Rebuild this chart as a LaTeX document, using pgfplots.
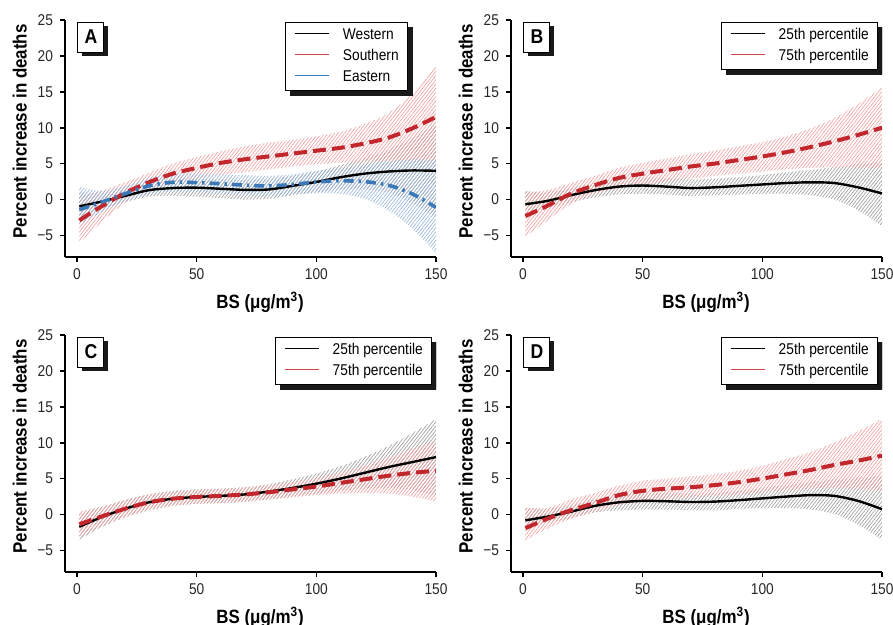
\documentclass[border=0pt]{standalone}
\usepackage{pgfplots}
\pgfplotsset{compat=1.18}
\usepackage{pgfplotstable}
\usepgfplotslibrary{fillbetween}
\usetikzlibrary{patterns.meta,shadows}
\usepackage{fontspec}
\setmainfont{Liberation Sans}[FakeStretch=0.88]

\definecolor{cred}{HTML}{C1272D}
\definecolor{lred}{HTML}{D04848}
\definecolor{cblue}{HTML}{3A78B8}
\definecolor{hgray}{HTML}{9A9A9A}
\definecolor{hred}{HTML}{EEA0A0}
\definecolor{hblue}{HTML}{98B6DA}

% panel A: western (w), southern (s), eastern (e); m = estimate, l/h = CI
\pgfplotstableread{
x    wm    wl    wh    sm    sl    sh    em    el    eh
1   -0.95 -2.8   1.0  -2.9  -6.1   0.4  -1.4  -3.5   1.8
10  -0.3  -1.4   0.9  -1.0  -3.2   1.2  -0.4  -1.8   1.2
20   0.5  -0.4   1.4   0.9  -0.5   2.4   0.8  -0.3   1.9
30   1.3   0.4   2.2   2.4   1.2   3.7   1.9   0.7   3.0
40   1.6   0.5   2.8   3.6   2.2   5.0   2.4   1.1   3.6
50   1.65  0.4   2.9   4.4   2.9   5.9   2.35  1.0   3.6
60   1.5   0.2   2.8   5.1   3.4   6.7   2.2   0.8   3.5
70   1.35  0.0   2.7   5.6   3.8   7.4   2.0   0.6   3.4
80   1.4   0.1   2.8   6.0   4.2   7.9   1.9   0.5   3.3
90   1.9   0.6   3.3   6.4   4.6   8.3   2.1   0.7   3.5
100  2.45  1.0   3.9   6.8   4.9   8.8   2.45  0.9   4.0
110  3.1   1.4   4.8   7.2   5.1   9.4   2.6   0.8   4.3
120  3.6   1.4   5.8   7.8   5.3  10.5   2.5   0.1   4.8
130  3.9   1.0   6.9   8.6   5.4  12.0   2.0  -1.5   5.3
140  4.05 -0.5   8.5   9.9   5.3  14.7   0.8  -4.0   5.6
150  4.0  -2.5  10.5  11.5   4.8  18.5  -1.1  -7.5   5.5
}\tabA

% panels B-D: 25th percentile (b), 75th percentile (r)
\pgfplotstableread{
x    bm    bl    bh    rm    rl    rh
1   -0.65 -2.0   1.2  -2.3  -5.2   1.0
10  -0.2  -1.3   1.0  -0.9  -3.0   1.3
20   0.6  -0.4   1.6   0.8  -0.6   2.3
30   1.3   0.3   2.3   2.0   0.7   3.3
40   1.8   0.7   2.9   3.0   1.5   4.4
50   1.95  0.8   3.1   3.6   2.0   5.1
60   1.8   0.7   3.0   4.1   2.5   5.7
70   1.6   0.5   2.8   4.6   2.9   6.3
80   1.7   0.6   2.9   5.0   3.3   6.8
90   1.9   0.7   3.1   5.5   3.6   7.4
100  2.1   0.8   3.4   6.0   3.9   8.0
110  2.3   0.8   3.8   6.6   4.2   8.8
120  2.4   0.6   4.1   7.3   4.4   9.9
130  2.3   0.0   4.5   8.1   4.5  11.3
140  1.7  -1.5   4.9   9.0   4.5  13.3
150  0.85 -3.7   5.3  10.0   4.3  15.6
}\tabB

\pgfplotstableread{
x    bm    bl    bh    rm    rl    rh
1   -1.7  -3.5   0.1  -1.35 -3.0   0.4
10  -0.4  -1.8   1.0  -0.3  -1.7   1.1
20   0.8  -0.4   2.0   0.8  -0.4   2.0
30   1.7   0.6   2.8   1.7   0.6   2.8
40   2.2   1.2   3.3   2.2   1.2   3.2
50   2.45  1.5   3.5   2.45  1.5   3.4
60   2.6   1.6   3.6   2.6   1.6   3.6
70   2.8   1.8   3.8   2.8   1.8   3.8
80   3.2   2.1   4.2   3.1   2.1   4.1
90   3.7   2.5   4.9   3.5   2.4   4.6
100  4.3   2.9   5.7   3.9   2.7   5.1
110  5.0   3.3   6.7   4.4   2.9   5.9
120  5.8   3.6   8.0   4.9   3.0   6.8
130  6.6   3.7   9.5   5.4   2.9   7.9
140  7.3   3.4  11.3   5.8   2.5   9.1
150  8.0   2.7  13.3   6.1   1.8  10.3
}\tabC

\pgfplotstableread{
x    bm    bl    bh    rm    rl    rh
1   -0.8  -1.8   0.9  -1.9  -3.6   1.0
10  -0.3  -1.2   0.8  -0.6  -2.0   0.9
20   0.4  -0.5   1.3   0.6  -0.6   2.1
30   1.2   0.3   2.1   1.6   0.4   3.0
40   1.7   0.6   2.8   2.7   1.3   4.0
50   1.9   0.7   3.0   3.3   1.9   4.7
60   1.85  0.7   3.0   3.6   2.2   5.0
70   1.75  0.6   2.9   3.8   2.4   5.3
80   1.8   0.6   3.0   4.1   2.6   5.6
90   2.0   0.8   3.3   4.5   2.8   6.1
100  2.25  0.9   3.7   5.0   3.1   6.8
110  2.5   0.9   4.1   5.6   3.4   7.7
120  2.7   0.7   4.5   6.2   3.6   8.7
130  2.6   0.1   4.9   6.9   3.7  10.0
140  1.9  -1.4   5.1   7.5   3.6  11.6
150  0.75 -3.5   5.3   8.2   3.3  13.3
}\tabD

\tikzset{
  band/.style={draw=none, pattern={Lines[angle=52, distance=1.3pt, line width=0.32pt]}},
  est/.style={smooth, black, line width=1.2pt},
  estr/.style={smooth, cred, line width=2pt, dash pattern=on 6.5pt off 3pt},
  este/.style={smooth, cblue, line width=1.8pt, dash pattern=on 5pt off 2.5pt on 1.2pt off 2.5pt},
  lab/.style={draw=black, line width=0.5pt, fill=white, font=\fontsize{10}{12}\selectfont\bfseries,
    minimum width=13pt, minimum height=15pt, inner sep=0pt,
    drop shadow={shadow xshift=1.8pt, shadow yshift=-1.8pt, fill=black!90, opacity=1}},
  legbase/.style={line width=0.5pt, anchor=north east,
    inner xsep=4.5pt, inner ysep=1.2pt, font=\fontsize{7.8}{10.5}\selectfont},
  leg/.style={legbase, draw=black, fill=white},
  legsh/.style={legbase, draw=black!90, fill=black!90, xshift=2.5pt, yshift=-2.5pt},
}
% legend sample line: colour, thickness
\newcommand{\lline}[2]{{\color{#1}\rule[2.6pt]{17pt}{#2}}}
% legend box with a plain black shadow box drawn first, behind it
\newcommand{\legbox}[2]{%
  \node[legsh] at (#1) {\phantom{#2}};
  \node[leg] at (#1) {#2};}

\pgfplotsset{
  panel/.style={
    scale only axis, width=185.5pt, height=118.5pt,
    anchor=south west,
    xmin=-5, xmax=150, ymin=-8, ymax=25,
    axis x line=bottom, axis y line=left,
    axis line style={-, line width=1pt},
    every tick/.style={black, line width=0.8pt},
    tick align=outside, major tick length=2.5pt,
    xtick={0,50,100,150}, xticklabels={0,50,100,150},
    ytick={-5,0,5,10,15,20,25},
    yticklabels={−5,0,5,10,15,20,25},
    tick label style={font=\fontsize{7.8}{9}\selectfont, text=black!85},
    xlabel={BS (μg/m\textsuperscript{3})},
    ylabel={Percent increase in deaths},
    label style={font=\fontsize{9.6}{11}\selectfont\bfseries},
    xlabel style={at={(axis description cs:0.526,-0.19)}, anchor=center},
    ylabel style={at={(axis description cs:-0.122,0.53)}, anchor=center},
  },
}

\newcommand{\pcband}[4]{% table, low col, high col, colour
  \addplot[draw=none, smooth, name path=lo, forget plot] table[x=x, y=#2] {#1};
  \addplot[draw=none, smooth, name path=hi, forget plot] table[x=x, y=#3] {#1};
  \addplot[band, pattern color=#4, forget plot] fill between[of=lo and hi];
}
\newcommand{\pcttab}{%
  \begin{tabular}{@{}l@{\hspace{7pt}}l@{}}
    \lline{black}{0.6pt} & 25th percentile\\
    \lline{lred}{0.8pt} & 75th percentile
  \end{tabular}}

\begin{document}
\begin{tikzpicture}

% ---- A ----
\begin{axis}[panel, at={(32.5pt,-128.5pt)}]
  \pcband{\tabA}{wl}{wh}{hgray}
  \pcband{\tabA}{sl}{sh}{hred}
  \pcband{\tabA}{el}{eh}{hblue}
  \addplot[est, no markers] table[x=x, y=wm] {\tabA};
  \addplot[estr, no markers] table[x=x, y=sm] {\tabA};
  \addplot[este, no markers] table[x=x, y=em] {\tabA};
  \node[lab] at (axis description cs:0.07,0.928) {A};
  \legbox{axis description cs:0.925,0.992}{%
    \begin{tabular}{@{}l@{\hspace{7pt}}l@{}}
      \lline{black}{0.6pt} & Western\\
      \lline{lred}{0.8pt} & Southern\\
      \lline{cblue}{0.8pt} & Eastern
    \end{tabular}}
\end{axis}

% ---- B ----
\begin{axis}[panel, at={(255.5pt,-128.5pt)}]
  \pcband{\tabB}{bl}{bh}{hgray}
  \pcband{\tabB}{rl}{rh}{hred}
  \addplot[est, no markers] table[x=x, y=bm] {\tabB};
  \addplot[estr, no markers] table[x=x, y=rm] {\tabB};
  \node[lab] at (axis description cs:0.07,0.928) {B};
  \legbox{axis description cs:0.99,0.992}{\pcttab}
\end{axis}

% ---- C ----
\begin{axis}[panel, at={(32.5pt,-286pt)}]
  \pcband{\tabC}{bl}{bh}{hgray}
  \pcband{\tabC}{rl}{rh}{hred}
  \addplot[est, no markers] table[x=x, y=bm] {\tabC};
  \addplot[estr, no markers] table[x=x, y=rm] {\tabC};
  \node[lab] at (axis description cs:0.07,0.928) {C};
  \legbox{axis description cs:0.99,0.992}{\pcttab}
\end{axis}

% ---- D ----
\begin{axis}[panel, at={(255.5pt,-286pt)}]
  \pcband{\tabD}{bl}{bh}{hgray}
  \pcband{\tabD}{rl}{rh}{hred}
  \addplot[est, no markers] table[x=x, y=bm] {\tabD};
  \addplot[estr, no markers] table[x=x, y=rm] {\tabD};
  \node[lab] at (axis description cs:0.07,0.928) {D};
  \legbox{axis description cs:0.99,0.992}{\pcttab}
\end{axis}

\pgfresetboundingbox
\useasboundingbox (0,0) rectangle (446.5pt,-312.5pt);
\end{tikzpicture}
\end{document}
